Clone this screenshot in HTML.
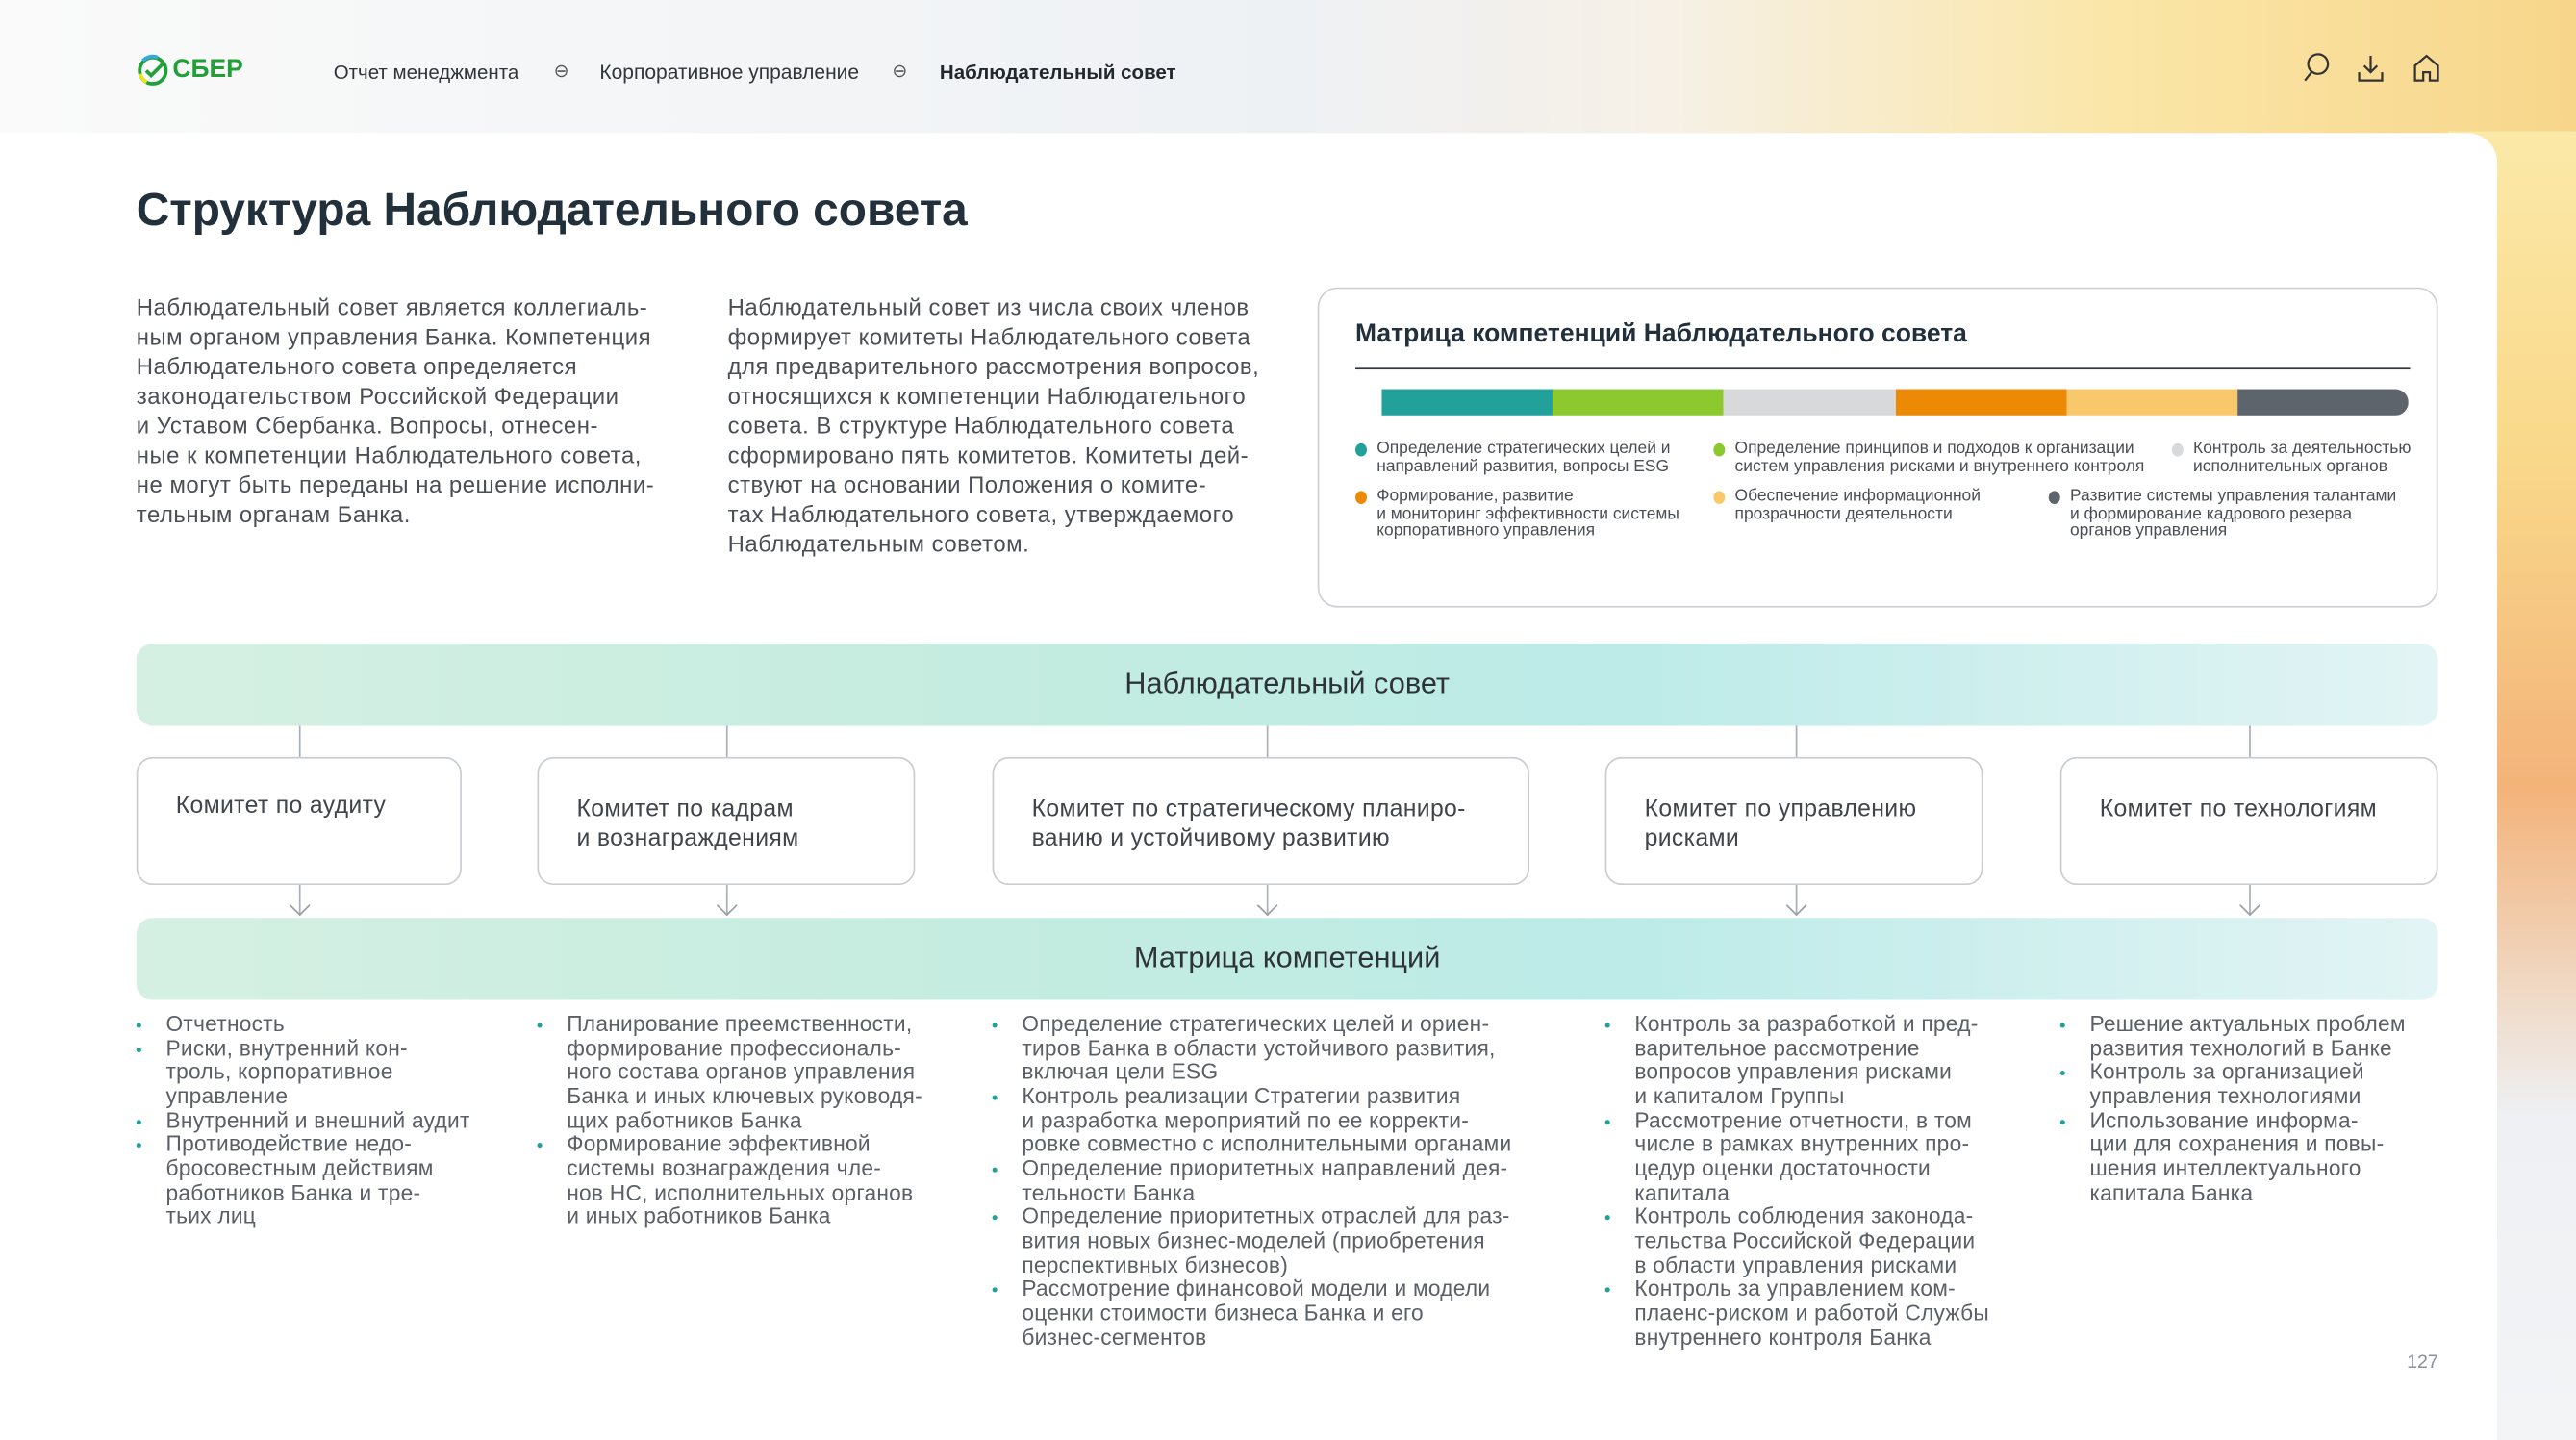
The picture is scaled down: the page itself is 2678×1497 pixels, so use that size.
<!DOCTYPE html>
<html><head><meta charset="utf-8">
<style>
html,body{margin:0;padding:0;width:2678px;height:1497px;overflow:hidden;background:#fff;}
#w{position:absolute;left:0;top:0;width:1568px;height:877px;transform:scale(1.70791,1.70696);transform-origin:0 0;font-family:"Liberation Sans",sans-serif;color:#3a3f44;
background:linear-gradient(90deg,#fafafa 0%,#eef1f4 50%,#f6f0e6 65%,#fbe6a8 82%,#f7d68a 100%);overflow:hidden;}
.abs{position:absolute;white-space:nowrap;}
#right{position:absolute;left:1490px;top:80px;width:80px;height:800px;background:linear-gradient(180deg,#fbe9a8 0%,#f9d88a 25%,#f3b37a 50%,#eef0f3 75%,#f3f4f6 100%);}
#card{position:absolute;left:0;top:81px;width:1520px;height:796px;background:#fff;border-top-right-radius:18px;}
.p{position:absolute;font-size:14px;letter-spacing:0.3px;line-height:18px;color:#4a4f55;white-space:nowrap;}
.band{position:absolute;left:83px;width:1401px;height:50px;border-radius:10px;background:linear-gradient(90deg,#d5f0e2 0%,#c3ece0 40%,#bcebe8 65%,#e3f4f5 100%);font-size:18px;color:#2d3339;text-align:center;line-height:48px;}
.box{position:absolute;top:461px;height:78px;border:1px solid #c9cdd1;border-radius:10px;background:#fff;box-sizing:border-box;padding:22px 0 0 23px;font-size:14.5px;letter-spacing:0.2px;line-height:18px;color:#3f454b;white-space:nowrap;}
.vl{position:absolute;width:1px;background:#a9afb5;}
.arr{position:absolute;width:8px;height:8px;border-right:1px solid #9aa0a6;border-bottom:1px solid #9aa0a6;transform:rotate(45deg);}
ul{position:absolute;top:617px;margin:0;padding:0;list-style:none;font-size:13.3px;letter-spacing:0.15px;line-height:14.65px;color:#5a6066;white-space:nowrap;}
li{position:relative;padding-left:18px;}
li:before{content:"";position:absolute;left:0;top:6px;width:3px;height:3px;border-radius:50%;background:#21a19a;}
.lg{position:absolute;font-size:10.2px;line-height:10.5px;color:#4a4f55;white-space:nowrap;padding-left:13px;}
.lg i{position:absolute;left:0;top:1px;width:7px;height:8px;border-radius:50%;}
</style></head><body><div id="w">
<div id="right"></div>
<div id="card"></div>

<div class="abs" style="left:83px;top:33px;">
<svg width="20" height="20" viewBox="0 0 20 20"><circle cx="10" cy="10" r="8" fill="none" stroke="#21a038" stroke-width="2.2"/><path d="M6 10l3 3 7-7" fill="none" stroke="#21a038" stroke-width="2.2"/><path d="M4 4a8 8 0 0 1 9-2" stroke="#35a9e0" stroke-width="2.2" fill="none"/><path d="M2.3 12a8 8 0 0 0 4 5" stroke="#e8e51b" stroke-width="2.2" fill="none"/></svg></div>
<div class="abs" style="left:105px;top:34px;font-size:15.5px;font-weight:bold;color:#21a038;">СБЕР</div>
<div class="abs" style="left:203px;top:37px;font-size:12px;color:#2f353b;">Отчет менеджмента</div>
<div class="abs" style="left:337px;top:37px;font-size:11px;color:#555;">⊖</div>
<div class="abs" style="left:365px;top:37px;font-size:12.3px;color:#2f353b;">Корпоративное управление</div>
<div class="abs" style="left:543px;top:37px;font-size:11px;color:#555;">⊖</div>
<div class="abs" style="left:572px;top:37px;font-size:12px;color:#21282e;font-weight:bold;">Наблюдательный совет</div>
<svg class="abs" style="left:1400px;top:31px" width="90" height="20" viewBox="0 0 90 20" fill="none" stroke="#333" stroke-width="1.3"><circle cx="11" cy="8" r="6"/><path d="M7 13l-4 5"/><path d="M43 3v10M39 9l4 4 4-4M36 13v5h14v-5"/><path d="M70 9l7-6 7 6v9h-5v-5h-4v5h-5z"/></svg>

<div class="abs" style="left:83px;top:112px;font-size:28px;font-weight:bold;color:#21303b;">Структура Наблюдательного совета</div>

<div class="p" style="left:83px;top:178px;">Наблюдательный совет является коллегиаль-<br>ным органом управления Банка. Компетенция<br>Наблюдательного совета определяется<br>законодательством Российской Федерации<br>и Уставом Сбербанка. Вопросы, отнесен-<br>ные к компетенции Наблюдательного совета,<br>не могут быть переданы на решение исполни-<br>тельным органам Банка.</div>
<div class="p" style="left:443px;top:178px;">Наблюдательный совет из числа своих членов<br>формирует комитеты Наблюдательного совета<br>для предварительного рассмотрения вопросов,<br>относящихся к компетенции Наблюдательного<br>совета. В структуре Наблюдательного совета<br>сформировано пять комитетов. Комитеты дей-<br>ствуют на основании Положения о комите-<br>тах Наблюдательного совета, утверждаемого<br>Наблюдательным советом.</div>

<div style="position:absolute;left:802px;top:175px;width:682px;height:195px;border:1px solid #cdd1d5;border-radius:12px;box-sizing:border-box;background:#fff;"></div>
<div class="abs" style="left:825px;top:195px;font-size:15.5px;font-weight:bold;color:#21303b;">Матрица компетенций Наблюдательного совета</div>
<div style="position:absolute;left:825px;top:224px;width:642px;height:1px;background:#2f363c;"></div>
<div style="position:absolute;left:841px;top:237px;width:625px;height:16px;display:flex;border-radius:0 8px 8px 0;overflow:hidden;">
<div style="flex:1;background:#21a19a"></div><div style="flex:1;background:#8cc92e"></div><div style="flex:1;background:#d8d9db"></div><div style="flex:1;background:#ec8a06"></div><div style="flex:1;background:#f9c86b"></div><div style="flex:1;background:#5d646b"></div></div>
<div class="lg" style="left:825px;top:269px;"><i style="background:#21a19a"></i>Определение стратегических целей и<br>направлений развития, вопросы ESG</div>
<div class="lg" style="left:1043px;top:269px;"><i style="background:#8cc92e"></i>Определение принципов и подходов к организации<br>систем управления рисками и внутреннего контроля</div>
<div class="lg" style="left:1322px;top:269px;"><i style="background:#d8d9db"></i>Контроль за деятельностью<br>исполнительных органов</div>
<div class="lg" style="left:825px;top:298px;"><i style="background:#ec8a06"></i>Формирование, развитие<br>и мониторинг эффективности системы<br>корпоративного управления</div>
<div class="lg" style="left:1043px;top:298px;"><i style="background:#f9c86b"></i>Обеспечение информационной<br>прозрачности деятельности</div>
<div class="lg" style="left:1247px;top:298px;"><i style="background:#5d646b"></i>Развитие системы управления талантами<br>и формирование кадрового резерва<br>органов управления</div>

<div class="band" style="top:392px;">Наблюдательный совет</div>
<div class="band" style="top:559px;">Матрица компетенций</div>

<div class="vl" style="left:182px;top:442px;height:19px"></div>
<div class="vl" style="left:442px;top:442px;height:19px"></div>
<div class="vl" style="left:771px;top:442px;height:19px"></div>
<div class="vl" style="left:1093px;top:442px;height:19px"></div>
<div class="vl" style="left:1369px;top:442px;height:19px"></div>
<div class="vl" style="left:182px;top:539px;height:18px"></div>
<div class="vl" style="left:442px;top:539px;height:18px"></div>
<div class="vl" style="left:771px;top:539px;height:18px"></div>
<div class="vl" style="left:1093px;top:539px;height:18px"></div>
<div class="vl" style="left:1369px;top:539px;height:18px"></div>
<div class="arr" style="left:178px;top:547px"></div>
<div class="arr" style="left:438px;top:547px"></div>
<div class="arr" style="left:767px;top:547px"></div>
<div class="arr" style="left:1089px;top:547px"></div>
<div class="arr" style="left:1365px;top:547px"></div>

<div class="box" style="left:83px;width:198px;padding-top:20px">Комитет по аудиту</div>
<div class="box" style="left:327px;width:230px;">Комитет по кадрам<br>и вознаграждениям</div>
<div class="box" style="left:604px;width:327px;">Комитет по стратегическому планиро-<br>ванию и устойчивому развитию</div>
<div class="box" style="left:977px;width:230px;">Комитет по управлению<br>рисками</div>
<div class="box" style="left:1254px;width:230px;">Комитет по технологиям</div>

<ul style="left:83px;"><li>Отчетность</li><li>Риски, внутренний кон-<br>троль, корпоративное<br>управление</li><li>Внутренний и внешний аудит</li><li>Противодействие недо-<br>бросовестным действиям<br>работников Банка и тре-<br>тьих лиц</li></ul>
<ul style="left:327px;"><li>Планирование преемственности,<br>формирование профессиональ-<br>ного состава органов управления<br>Банка и иных ключевых руководя-<br>щих работников Банка</li><li>Формирование эффективной<br>системы вознаграждения чле-<br>нов НС, исполнительных органов<br>и иных работников Банка</li></ul>
<ul style="left:604px;"><li>Определение стратегических целей и ориен-<br>тиров Банка в области устойчивого развития,<br>включая цели ESG</li><li>Контроль реализации Стратегии развития<br>и разработка мероприятий по ее корректи-<br>ровке совместно с исполнительными органами</li><li>Определение приоритетных направлений дея-<br>тельности Банка</li><li>Определение приоритетных отраслей для раз-<br>вития новых бизнес-моделей (приобретения<br>перспективных бизнесов)</li><li>Рассмотрение финансовой модели и модели<br>оценки стоимости бизнеса Банка и его<br>бизнес-сегментов</li></ul>
<ul style="left:977px;"><li>Контроль за разработкой и пред-<br>варительное рассмотрение<br>вопросов управления рисками<br>и капиталом Группы</li><li>Рассмотрение отчетности, в том<br>числе в рамках внутренних про-<br>цедур оценки достаточности<br>капитала</li><li>Контроль соблюдения законода-<br>тельства Российской Федерации<br>в области управления рисками</li><li>Контроль за управлением ком-<br>плаенс-риском и работой Службы<br>внутреннего контроля Банка</li></ul>
<ul style="left:1254px;"><li>Решение актуальных проблем<br>развития технологий в Банке</li><li>Контроль за организацией<br>управления технологиями</li><li>Использование информа-<br>ции для сохранения и повы-<br>шения интеллектуального<br>капитала Банка</li></ul>

<div class="abs" style="left:1465px;top:824px;font-size:11.5px;color:#8a9096;">127</div>
</div></body></html>
